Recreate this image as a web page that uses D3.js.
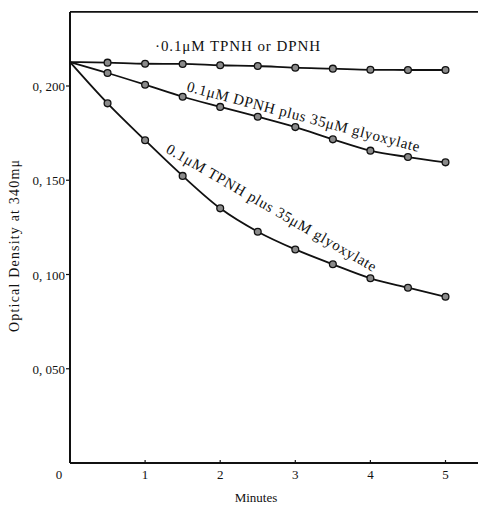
<!DOCTYPE html>
<meta charset="utf-8">
<style>
body { margin: 0; background: #fff; }
text { font-family: "Liberation Serif", "DejaVu Serif", serif; fill: #111; }
.line { fill: none; stroke: #111; stroke-width: 1.8px; }
.dot { fill: #8a8a8a; stroke: #111; stroke-width: 1.3px; }
</style>
<body>
<script src="https://cdn.jsdelivr.net/npm/d3@7"></script>
<script>

var minutes = [0, 0.5, 1, 1.5, 2, 2.5, 3, 3.5, 4, 4.5, 5];
var control = [0.2127, 0.2124, 0.2118, 0.2117, 0.2110, 0.2106, 0.2097, 0.2092, 0.2086, 0.2085, 0.2085];
var dpnhGly = [0.2127, 0.2069, 0.2007, 0.1943, 0.1889, 0.1837, 0.1782, 0.1717, 0.1657, 0.1623, 0.1595];
var tpnhGly = [0.2127, 0.1908, 0.1712, 0.1523, 0.1351, 0.1227, 0.1133, 0.1054, 0.0980, 0.0930, 0.0882];
var xTicks = [0, 1, 2, 3, 4, 5];
var yTicks = [0.05, 0.10, 0.15, 0.20];
var yTickLabels = ["0, 050", "0, 100", "0, 150", "0, 200"];

var width = 478, height = 506;
var x = d3.scaleLinear().domain([0, 5]).range([70, 445.5]);
var y = d3.scaleLinear().domain([0, 0.2]).range([463, 86]);
var top_ = y(0.2393);

var svg = d3.select("body").append("svg")
    .attr("width", width)
    .attr("height", height);

// frame: left, top and bottom lines
svg.append("line").attr("x1", 70).attr("x2", 70).attr("y1", top_).attr("y2", y(0))
    .attr("stroke", "#111").attr("stroke-width", 2);
svg.append("line").attr("x1", 70).attr("x2", width).attr("y1", top_).attr("y2", top_)
    .attr("stroke", "#111").attr("stroke-width", 1.6);
svg.append("line").attr("x1", 70).attr("x2", width).attr("y1", y(0)).attr("y2", y(0))
    .attr("stroke", "#111").attr("stroke-width", 2);

// y ticks
yTicks.forEach(function(v, i) {
  svg.append("line").attr("x1", 66).attr("x2", 70).attr("y1", y(v)).attr("y2", y(v))
      .attr("stroke", "#111").attr("stroke-width", 1.2);
  svg.append("text").attr("x", 65).attr("y", y(v) + 5)
      .attr("text-anchor", "end").attr("font-size", "13px")
      .text(yTickLabels[i]);
});

// x ticks
xTicks.forEach(function(v) {
  if (v > 0) {
    svg.append("line").attr("x1", x(v)).attr("x2", x(v)).attr("y1", y(0)).attr("y2", y(0) - 3)
        .attr("stroke", "#111").attr("stroke-width", 1.2);
  }
  svg.append("text").attr("x", v === 0 ? 59 : x(v)).attr("y", 479)
      .attr("text-anchor", "middle").attr("font-size", "13px")
      .text(v);
});

svg.append("text").attr("x", 256).attr("y", 502)
    .attr("text-anchor", "middle").attr("font-size", "13px")
    .text("Minutes");

svg.append("text")
    .attr("transform", "translate(19,246) rotate(-90)")
    .attr("text-anchor", "middle").attr("font-size", "14px")
    .attr("textLength", 172).attr("lengthAdjust", "spacing")
    .text("Optical Density at 340m\u03bc");

var value_line = d3.line()
    .x(function(d) { return x(d[0]); })
    .y(function(d) { return y(d[1]); })
    .curve(d3.curveMonotoneX);

[control, dpnhGly, tpnhGly].forEach(function(series) {
  var pts = minutes.map(function(m, i) { return [m, series[i]]; });
  svg.append("path").datum(pts).attr("class", "line").attr("d", value_line);
  svg.selectAll(null).data(pts.slice(1)).enter().append("circle")
      .attr("class", "dot")
      .attr("cx", function(d) { return x(d[0]); })
      .attr("cy", function(d) { return y(d[1]); })
      .attr("r", 3.4);
});

// curve labels
svg.append("text").attr("x", 155).attr("y", 51).attr("font-size", "15px")
    .attr("textLength", 165).attr("lengthAdjust", "spacing")
    .text("\u00b70.1\u03bcM TPNH or DPNH");

svg.append("text").attr("transform", "translate(186,91) rotate(14.7)")
    .attr("font-size", "15px")
    .attr("textLength", 240).attr("lengthAdjust", "spacing")
    .text("0.1\u03bcM DPNH plus 35\u03bcM glyoxylate");

svg.append("text").attr("transform", "translate(165,152) rotate(30)")
    .attr("font-size", "15px")
    .attr("textLength", 240).attr("lengthAdjust", "spacing")
    .text("0.1\u03bcM TPNH plus 35\u03bcM glyoxylate");

</script>
</body>
